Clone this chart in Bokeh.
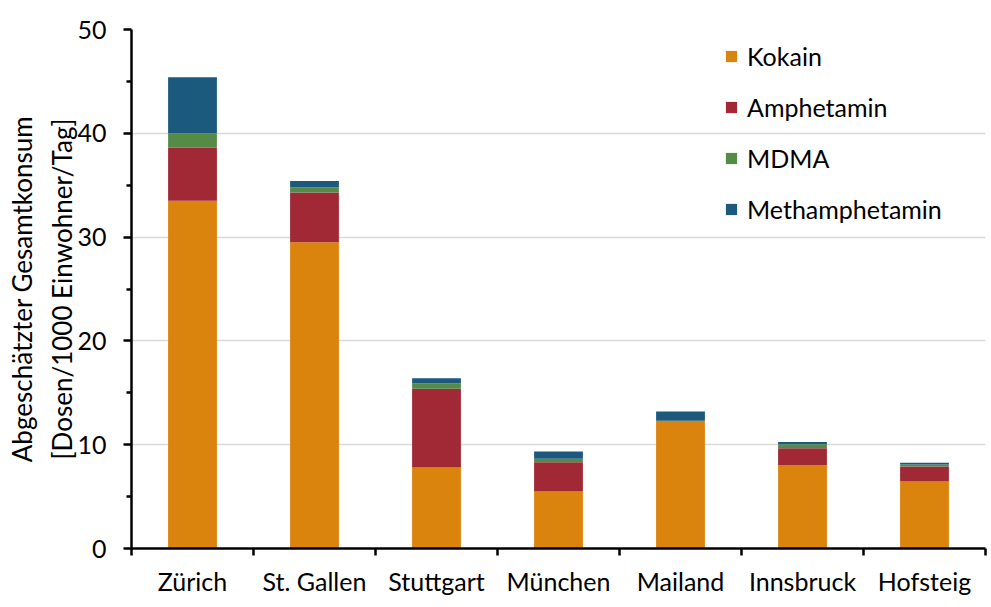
from bokeh.plotting import figure
from bokeh.models import Range1d, FixedTicker, Legend, LegendItem
from bokeh.embed import file_html
from bokeh.resources import INLINE

cities = ["Zürich", "St. Gallen", "Stuttgart", "München", "Mailand", "Innsbruck", "Hofsteig"]
kokain = [33.5, 29.5, 7.8, 5.5, 12.3, 8.05, 6.45]
amphetamin = [5.1, 4.8, 7.6, 2.8, 0.0, 1.6, 1.45]
mdma = [1.4, 0.5, 0.5, 0.35, 0.0, 0.4, 0.2]
methamphetamin = [5.4, 0.6, 0.5, 0.7, 0.9, 0.2, 0.15]
series = ["Kokain", "Amphetamin", "MDMA", "Methamphetamin"]
colors = ["#DA830D", "#A02935", "#558B47", "#1C5A7D"]
y_ticks = [0, 10, 20, 30, 40, 50]

FONT = "Lato"
n = len(cities)
xpos = [i + 0.5 for i in range(n)]

data = dict(x=xpos, Kokain=kokain, Amphetamin=amphetamin, MDMA=mdma,
            Methamphetamin=methamphetamin)

p = figure(width=991, height=607, output_backend="svg", toolbar_location=None,
           x_range=Range1d(0, n), y_range=Range1d(0, 50),
           min_border_left=131, min_border_right=6, min_border_top=29,
           min_border_bottom=59)
p.outline_line_color = None
p.background_fill_color = "white"
p.border_fill_color = "white"

renderers = p.vbar_stack(series, x="x", width=0.4, source=data, color=colors,
                         line_color=None)

# y axis
yax = p.yaxis[0]
yax.ticker = FixedTicker(ticks=y_ticks, minor_ticks=[5, 15, 25, 35, 45])
yax.axis_label = "Abgeschätzter Gesamtkonsum\n[Dosen/1000 Einwohner/Tag]"
yax.axis_label_text_font = FONT
yax.axis_label_text_font_size = "26px"
yax.axis_label_text_font_style = "normal"
yax.axis_label_text_color = "black"
yax.axis_label_text_line_height = 1.25
yax.axis_label_standoff = -4
yax.major_label_text_font = FONT
yax.major_label_text_font_size = "25px"
yax.major_label_text_color = "black"
yax.major_label_standoff = 17
yax.axis_line_width = 2.5
yax.axis_line_color = "black"
yax.major_tick_out = 8
yax.major_tick_in = 0
yax.major_tick_line_width = 2.5
yax.major_tick_line_color = "black"
yax.minor_tick_out = 5
yax.minor_tick_in = 0
yax.minor_tick_line_width = 2.5
yax.minor_tick_line_color = "black"

# x axis
xax = p.xaxis[0]
xax.ticker = FixedTicker(ticks=xpos, minor_ticks=list(range(n + 1)))
xax.major_label_overrides = {x: c for x, c in zip(xpos, cities)}
xax.major_label_text_font = FONT
xax.major_label_text_font_size = "25px"
xax.major_label_text_color = "black"
xax.major_label_standoff = 10
xax.major_tick_out = 0
xax.major_tick_in = 0
xax.minor_tick_out = 7
xax.minor_tick_in = 0
xax.minor_tick_line_width = 2.5
xax.minor_tick_line_color = "black"
xax.axis_line_width = 2.5
xax.axis_line_color = "black"

p.xgrid.grid_line_color = None
p.ygrid.ticker = FixedTicker(ticks=y_ticks[1:])
p.ygrid.grid_line_color = "#D9D9D9"
p.ygrid.grid_line_width = 1.5

items = [LegendItem(label=s, renderers=[r]) for s, r in zip(series, renderers)]
legend = Legend(items=items, location=(593, 324))
legend.glyph_width = 14
legend.glyph_height = 14
legend.label_height = 30
legend.spacing = 21
legend.padding = 0
legend.margin = 0
legend.label_standoff = 9
legend.label_text_font = FONT
legend.label_text_font_size = "25px"
legend.label_text_color = "black"
legend.border_line_color = None
legend.background_fill_alpha = 0
p.add_layout(legend)

open("out.html", "w").write(file_html(p, INLINE))
